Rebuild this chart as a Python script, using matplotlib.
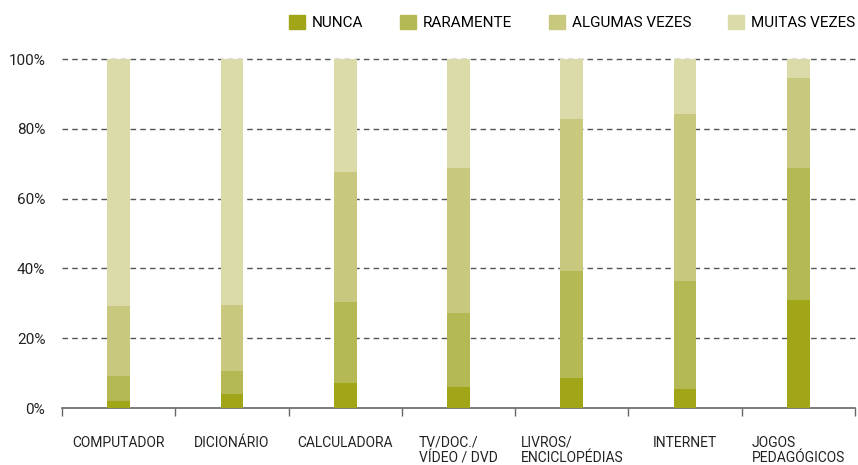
import matplotlib
matplotlib.use('Agg')
import matplotlib.pyplot as plt
from matplotlib.patches import Patch
import numpy as np

categories = ['COMPUTADOR', 'DICIONÁRIO', 'CALCULADORA', 'TV/DOC./\nVÍDEO / DVD',
              'LIVROS/\nENCICLOPÉDIAS', 'INTERNET', 'JOGOS\nPEDAGÓGICOS']
series = ['NUNCA', 'RARAMENTE', 'ALGUMAS VEZES', 'MUITAS VEZES']
nunca = [2.0, 4.0, 7.3, 6.0, 8.6, 5.4, 30.9]
raramente = [7.2, 6.6, 23.1, 21.2, 30.7, 31.0, 37.9]
algumas = [20.0, 18.9, 37.2, 41.6, 43.5, 47.8, 25.8]
muitas = [70.8, 70.5, 32.4, 31.2, 17.2, 15.8, 5.4]
colors = ['#a0a618', '#b5b953', '#c8c97e', '#dadba9']
yticks = [0, 20, 40, 60, 80, 100]

plt.rcParams['font.family'] = ['Roboto', 'DejaVu Sans']
fig = plt.figure(figsize=(8.58, 4.65), dpi=100)
ax = fig.add_axes([62 / 858, 1 - 408 / 465, (855 - 62) / 858, (408 - 59) / 465])

x = np.arange(len(categories))
bottom = np.zeros(len(categories))
for vals, c, name in zip([nunca, raramente, algumas, muitas], colors, series):
    ax.bar(x, vals, 0.2, bottom=bottom, color=c, label=name, zorder=3)
    bottom += np.array(vals)

ax.set_xlim(-0.5, len(categories) - 0.5)
ax.set_ylim(0, 100)
ax.set_yticks(yticks)
ax.set_yticklabels(['%d%%' % v for v in yticks])
for v in yticks[1:]:
    ax.axhline(v, color='#555555', lw=1, ls=(0, (4, 3)), zorder=1, clip_on=False)

for s in ['top', 'right', 'left']:
    ax.spines[s].set_visible(False)
ax.spines['bottom'].set_color('#666666')
ax.spines['bottom'].set_linewidth(1.2)

ax.set_xticks(x)
ax.set_xticklabels(categories)
ax.set_xticks(np.arange(len(categories) + 1) - 0.5, minor=True)
ax.tick_params(axis='x', which='major', length=0, pad=20, labelsize=10, colors='#222222')
ax.tick_params(axis='x', which='minor', length=6, width=1, color='#666666')
ax.tick_params(axis='y', length=0, pad=12, labelsize=11, colors='#222222')
for t in ax.get_xticklabels():
    t.set_multialignment('left')
    t.set_verticalalignment('top')
    t.set_linespacing(1.12)

handles = [Patch(color=c, label=n) for c, n in zip(colors, series)]
fig.legend(handles=handles, loc='upper right', bbox_to_anchor=(855 / 858, 1 - 15 / 465), ncol=4,
           frameon=False, handlelength=1.05, handleheight=1.05, handletextpad=0.45,
           columnspacing=2.4, fontsize=11, borderpad=0, borderaxespad=0)

fig.savefig('out.png', dpi=100)
